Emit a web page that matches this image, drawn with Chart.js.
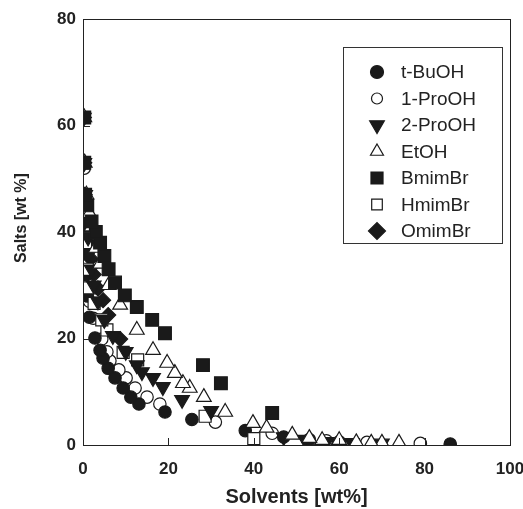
<!DOCTYPE html>
<html>
<head>
<meta charset="utf-8">
<script src="https://cdn.jsdelivr.net/npm/chart.js@4/dist/chart.umd.min.js"></script>
<style>
  html, body { margin: 0; padding: 0; background: #fff; }
  #wrap { width: 523px; height: 509px; }
</style>
</head>
<body>
<div id="wrap"><canvas id="chart" width="523" height="509"></canvas></div>
<script>
// solvent wt% (x) and salt wt% (y)
var tBuOH = [[86.0,0.2],[60,0.6],[53,1.0],[47,1.5],[38,2.7],[25.5,4.8],[19.2,6.2],[13.1,7.7],[11.2,9.0],[9.4,10.7],[7.5,12.6],[5.9,14.4],[4.7,16.3],[4.0,17.8],[2.8,20.1],[1.5,24],[1.0,28],[0.8,32],[0.5,36],[0.4,40],[0.3,47],[0.2,53],[0.2,61.5]];
var proOH1 = [[79,0.3],[66.5,0.5],[57,0.8],[44.3,2.2],[31,4.3],[18,7.7],[15,9.0],[12.2,10.7],[10.1,12.6],[8.4,14.1],[6.3,15.8],[5.6,17.5],[4.4,19.9],[2.4,23.8],[1.5,27],[1.0,31],[0.7,36],[0.5,42],[0.4,47],[0.3,52],[0.2,61.5]];
var proOH2 = [[70,0.3],[63,0.4],[57,0.6],[52,1.0],[47,1.5],[30,6.4],[23.2,8.5],[18.7,10.9],[16.4,12.6],[13.8,13.7],[12.6,15.0],[10,17.5],[7,20.5],[5,23.5],[3.5,27],[2.5,30],[2,33],[1.5,36],[1.2,39],[0.8,42],[0.5,47],[0.3,53],[0.2,61.5]];
var etOH = [[74,0.4],[70,0.4],[67.5,0.4],[64,0.5],[60,0.9],[56,0.9],[53,1.3],[49,1.9],[43,3.2],[39.8,4.1],[33.3,6.2],[28.3,9.0],[25,10.7],[23.4,11.6],[21.5,13.5],[19.7,15.4],[16.4,17.8],[12.6,21.6],[8.7,26.3],[6,30],[4,34],[3,37],[2,41],[1.5,43.5],[0.8,47],[0.4,53],[0.3,61.5]];
var bmimBr = [[44.3,6.0],[32.3,11.6],[28.1,15.0],[19.2,21.0],[16.2,23.5],[12.6,25.9],[9.8,28.1],[7.5,30.5],[6,33],[5,35.5],[4,38],[3,40],[2,42],[1,45],[0.5,47],[0.3,53],[0.3,61.5]];
var hmimBr = [[40,1.2],[28.6,5.4],[12.8,16],[9.4,17.4],[5.6,21.6],[4.4,23.5],[2.6,26.6],[1.5,29.5],[1,33],[0.6,38],[0.4,43],[0.3,47],[0.2,53],[0.2,61.5]];
var omimBr = [[8.7,19.9],[5.9,24.4],[4.7,27.2],[3.5,29.4],[2.5,32],[1.8,35],[1.3,38],[0.9,41],[0.6,44],[0.4,47],[0.3,53],[0.2,61.5]];

var seriesNames = ["t-BuOH", "1-ProOH", "2-ProOH", "EtOH", "BmimBr", "HmimBr", "OmimBr"];
var xTicks = [0, 20, 40, 60, 80, 100];
var yTicks = [0, 20, 40, 60, 80];
var xTitle = "Solvents [wt%]";
var yTitle = "Salts [wt %]";

function pts(arr) {
    var out = [];
    for (var i = 0; i < arr.length; i++) {
        out.push({x: arr[i][0], y: arr[i][1]});
    }
    return out;
}

var ink = "#1a1a1a";
function ds(label, arr, style, filled, radius, rotation) {
    return {
        label: label,
        data: pts(arr),
        pointStyle: style,
        pointRadius: radius,
        pointRotation: rotation || 0,
        pointBackgroundColor: filled ? ink : "#fff",
        pointBorderColor: ink,
        pointBorderWidth: 1.2,
        showLine: false
    };
}

// drawn last -> on top, so order roughly as in the figure
var datasets = [
    ds(seriesNames[4], bmimBr, "rect", true, 9),
    ds(seriesNames[3], etOH, "triangle", false, 8.5),
    ds(seriesNames[2], proOH2, "triangle", true, 8.5, 180),
    ds(seriesNames[5], hmimBr, "rect", false, 8.5),
    ds(seriesNames[6], omimBr, "rectRot", true, 7.5),
    ds(seriesNames[0], tBuOH, "circle", true, 6.2),
    ds(seriesNames[1], proOH1, "circle", false, 6.2)
];

var legendItems = [
    {name: seriesNames[0], style: "circle", filled: true, r: 6.5, rot: 0},
    {name: seriesNames[1], style: "circle", filled: false, r: 5.5, rot: 0},
    {name: seriesNames[2], style: "triangle", filled: true, r: 8.5, rot: 180},
    {name: seriesNames[3], style: "triangle", filled: false, r: 7.5, rot: 0},
    {name: seriesNames[4], style: "rect", filled: true, r: 8.5, rot: 0},
    {name: seriesNames[5], style: "rect", filled: false, r: 7.5, rot: 0},
    {name: seriesNames[6], style: "rectRot", filled: true, r: 8.5, rot: 0}
];

var fam = "'Liberation Sans', Arial, sans-serif";

var framePlugin = {
    id: "frame",
    afterDatasetsDraw: function (chart) {
        var ctx = chart.ctx;
        var a = chart.chartArea;
        var xs = chart.scales.x, ys = chart.scales.y;
        ctx.save();
        ctx.strokeStyle = "#222";
        ctx.lineWidth = 1;
        ctx.strokeRect(Math.round(a.left) + 0.5, Math.round(a.top) + 0.5,
            Math.round(a.right - a.left), Math.round(a.bottom - a.top));
        // inward ticks
        ctx.beginPath();
        for (var i = 0; i < xTicks.length; i++) {
            var px = Math.round(xs.getPixelForValue(xTicks[i])) + 0.5;
            ctx.moveTo(px, a.bottom);
            ctx.lineTo(px, a.bottom - 7);
        }
        for (var j = 0; j < yTicks.length; j++) {
            var py = Math.round(ys.getPixelForValue(yTicks[j])) + 0.5;
            ctx.moveTo(a.left, py);
            ctx.lineTo(a.left + 7, py);
        }
        ctx.stroke();

        // y title, sits a little above the axis middle in the original
        ctx.fillStyle = "#222";
        ctx.font = "bold 16px " + fam;
        ctx.textAlign = "center";
        ctx.textBaseline = "middle";
        ctx.translate(22, (a.top + a.bottom) / 2 - 14);
        ctx.rotate(-Math.PI / 2);
        ctx.fillText(yTitle, 0, 0);
        ctx.setTransform(1, 0, 0, 1, 0, 0);

        // legend box
        var bx = a.right - 167, by = a.top + 28, bw = 159, bh = 196;
        ctx.fillStyle = "#fff";
        ctx.fillRect(bx, by, bw, bh);
        ctx.strokeStyle = "#333";
        ctx.strokeRect(bx + 0.5, by + 0.5, bw, bh);
        ctx.font = "19px " + fam;
        ctx.textBaseline = "middle";
        ctx.textAlign = "left";
        for (var k = 0; k < legendItems.length; k++) {
            var it = legendItems[k];
            var ly = by + 25 + k * 26.5;
            ctx.fillStyle = it.filled ? ink : "#fff";
            ctx.strokeStyle = ink;
            ctx.lineWidth = 1.2;
            Chart.helpers.drawPoint(ctx, {pointStyle: it.style, radius: it.r, rotation: it.rot, borderWidth: 1.2}, bx + 34, ly);
            ctx.fillStyle = "#222";
            ctx.fillText(it.name, bx + 58, ly + 1);
        }
        ctx.restore();
    }
};

var tickFont = {family: fam, size: 17, weight: "bold"};

var ctx = document.getElementById("chart");
var chart = new Chart(ctx, {
    type: "scatter",
    data: {datasets: datasets},
    options: {
        responsive: false,
        animation: false,
        devicePixelRatio: 1,
        layout: {padding: {top: 19, right: 0, left: 0, bottom: 0}},
        plugins: {legend: {display: false}, tooltip: {enabled: false}},
        scales: {
            x: {
                type: "linear", min: 0, max: 100,
                afterBuildTicks: function (s) { s.ticks = xTicks.map(function (v) { return {value: v}; }); },
                afterFit: function (s) { s.height = 64; s.paddingLeft = 0; s.paddingRight = 13; },
                grid: {display: false, drawTicks: false},
                border: {display: false},
                ticks: {font: tickFont, color: "#222", padding: 14, maxRotation: 0},
                title: {display: true, text: xTitle, font: {family: fam, size: 20, weight: "bold"}, color: "#222", padding: {top: 4, bottom: 0}}
            },
            y: {
                type: "linear", min: 0, max: 80,
                afterBuildTicks: function (s) { s.ticks = yTicks.map(function (v) { return {value: v}; }); },
                afterFit: function (s) { s.width = 83; },
                grid: {display: false, drawTicks: false},
                border: {display: false},
                ticks: {font: tickFont, color: "#222", padding: 7}
            }
        }
    },
    plugins: [framePlugin]
});
</script>
</body>
</html>
